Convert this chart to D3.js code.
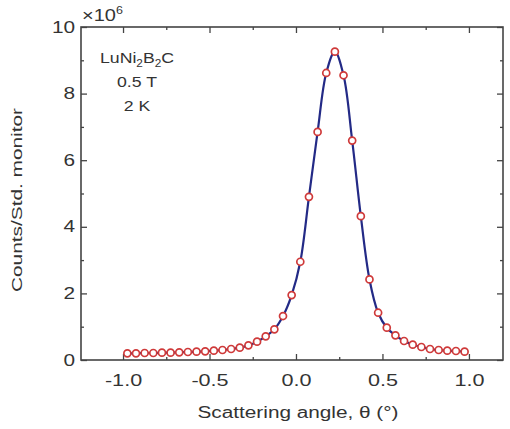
<!DOCTYPE html>
<html>
<head>
<meta charset="utf-8">
<script src="https://cdn.jsdelivr.net/npm/d3@7"></script>
<style>
  html, body { margin: 0; padding: 0; background: #fff; }
  svg text { font-family: 'Liberation Sans', Arial, sans-serif; fill: #333; }
</style>
</head>
<body>
<div id="chart"></div>
<script>
// scattering angle (deg) of each measured point
const angles = [
  -0.975, -0.925, -0.875, -0.825, -0.775, -0.725, -0.675, -0.625, -0.575, -0.525,
  -0.475, -0.425, -0.375, -0.325, -0.275, -0.225, -0.175, -0.125, -0.075, -0.025,
  0.025, 0.075, 0.125, 0.175, 0.225, 0.275, 0.325, 0.375, 0.425, 0.475,
  0.525, 0.575, 0.625, 0.675, 0.725, 0.775, 0.825, 0.875, 0.925, 0.975
];
// counts per std. monitor, in units of 10^6
const counts = [
  0.20, 0.20, 0.21, 0.21, 0.22, 0.22, 0.23, 0.24, 0.25, 0.26,
  0.28, 0.30, 0.33, 0.37, 0.44, 0.55, 0.71, 0.92, 1.32, 1.95,
  2.95, 4.90, 6.85, 8.62, 9.26, 8.55, 6.59, 4.32, 2.42, 1.42,
  0.97, 0.74, 0.57, 0.46, 0.39, 0.33, 0.30, 0.28, 0.27, 0.25
];
const xTicks = [-1.0, -0.5, 0.0, 0.5, 1.0];
const xMinorTicks = [-0.75, -0.25, 0.25, 0.75];
const yTicks = [0, 2, 4, 6, 8, 10];
const yMinorTicks = [1, 3, 5, 7, 9];
const sampleLines = ['0.5 T', '2 K'];

const W = 510, H = 429;
const frame = { left: 81, right: 503, top: 27, bottom: 360 };

const svg = d3.select('#chart')
  .append('svg')
  .attr('width', W)
  .attr('height', H);

const x = d3.scaleLinear()
  .domain([-1.243, 1.197])
  .range([frame.left, frame.right]);

const y = d3.scaleLinear()
  .domain([0, 10])
  .range([frame.bottom, frame.top]);

// widen text to match the stretched look of the original figure
function stretch(sel, k) {
  sel.each(function () {
    const len = this.getComputedTextLength();
    if (len > 0) {
      d3.select(this)
        .attr('textLength', len * k)
        .attr('lengthAdjust', 'spacingAndGlyphs');
    }
  });
}

function styleAxis(g) {
  g.select('.domain').remove();
  g.selectAll('.tick line').attr('stroke', '#444').attr('stroke-width', 1.3);
}

// major + minor ticks on all four sides, all pointing inward
const bottom = svg.append('g')
  .attr('transform', `translate(0,${frame.bottom})`)
  .call(d3.axisBottom(x).tickValues(xTicks).tickSize(-6).tickPadding(15)
    .tickFormat(d3.format('.1f')));
bottom.call(styleAxis);
bottom.selectAll('text')
  .attr('font-size', 16)
  .attr('font-family', "'Liberation Sans', Arial, sans-serif")
  .attr('fill', '#333')
  .text(d => d3.format('.1f')(d).replace('−', '-'));
stretch(bottom.selectAll('text'), 1.35);

svg.append('g')
  .attr('transform', `translate(0,${frame.bottom})`)
  .call(d3.axisBottom(x).tickValues(xMinorTicks).tickSize(-3).tickFormat(''))
  .call(styleAxis);

svg.append('g')
  .attr('transform', `translate(0,${frame.top})`)
  .call(d3.axisTop(x).tickValues(xTicks).tickSize(-6).tickFormat(''))
  .call(styleAxis);

svg.append('g')
  .attr('transform', `translate(0,${frame.top})`)
  .call(d3.axisTop(x).tickValues(xMinorTicks).tickSize(-3).tickFormat(''))
  .call(styleAxis);

const left = svg.append('g')
  .attr('transform', `translate(${frame.left},0)`)
  .call(d3.axisLeft(y).tickValues(yTicks).tickSize(-6).tickPadding(6));
left.call(styleAxis);
left.selectAll('text')
  .attr('font-size', 16)
  .attr('font-family', "'Liberation Sans', Arial, sans-serif")
  .attr('fill', '#333');
stretch(left.selectAll('text'), 1.3);

svg.append('g')
  .attr('transform', `translate(${frame.left},0)`)
  .call(d3.axisLeft(y).tickValues(yMinorTicks).tickSize(-3).tickFormat(''))
  .call(styleAxis);

svg.append('g')
  .attr('transform', `translate(${frame.right},0)`)
  .call(d3.axisRight(y).tickValues(yTicks).tickSize(-6).tickFormat(''))
  .call(styleAxis);

svg.append('g')
  .attr('transform', `translate(${frame.right},0)`)
  .call(d3.axisRight(y).tickValues(yMinorTicks).tickSize(-3).tickFormat(''))
  .call(styleAxis);

// frame
svg.append('rect')
  .attr('x', x.range()[0])
  .attr('y', y.range()[1])
  .attr('width', x.range()[1] - x.range()[0])
  .attr('height', y.range()[0] - y.range()[1])
  .attr('fill', 'none')
  .attr('stroke', '#444')
  .attr('stroke-width', 1.6);

// fit curve through the data, then the open circles on top
const points = angles.map((a, i) => ({ angle: a, value: counts[i] }));

const line = d3.line()
  .x(d => x(d.angle))
  .y(d => y(d.value))
  .curve(d3.curveCatmullRom.alpha(0.5));

svg.append('path')
  .datum(points)
  .attr('d', line)
  .attr('fill', 'none')
  .attr('stroke', '#232a86')
  .attr('stroke-width', 2.2);

svg.selectAll('.pt')
  .data(points)
  .join('circle')
  .attr('class', 'pt')
  .attr('cx', d => x(d.angle))
  .attr('cy', d => y(d.value))
  .attr('r', 3.5)
  .attr('fill', '#fff')
  .attr('stroke', '#cf3a3a')
  .attr('stroke-width', 1.7);

// exponent label
const expo = svg.append('text')
  .attr('transform', 'translate(82,21) scale(1.25,1)')
  .attr('font-size', 16);
expo.append('tspan').text('×10');
expo.append('tspan')
  .attr('font-size', 10)
  .attr('dy', -7)
  .text('6');

// sample annotation
const cx = 137;
const sample = svg.append('text')
  .attr('transform', `translate(${cx},63) scale(1.18,1)`)
  .attr('text-anchor', 'middle')
  .attr('font-size', 15);
sample.append('tspan').text('LuNi');
sample.append('tspan').attr('font-size', 10).attr('dy', 4).text('2');
sample.append('tspan').attr('dy', -4).text('B');
sample.append('tspan').attr('font-size', 10).attr('dy', 4).text('2');
sample.append('tspan').attr('dy', -4).text('C');

sampleLines.forEach((t, i) => {
  svg.append('text')
    .attr('transform', `translate(${cx},${87 + i * 24}) scale(1.18,1)`)
    .attr('text-anchor', 'middle')
    .attr('font-size', 15)
    .text(t);
});

// axis titles
const xTitle = svg.append('text')
  .attr('x', (frame.left + frame.right) / 2 + 6)
  .attr('y', 418)
  .attr('text-anchor', 'middle')
  .attr('font-size', 16)
  .text('Scattering angle, θ (°)');
xTitle.attr('textLength', 201).attr('lengthAdjust', 'spacingAndGlyphs');

svg.append('text')
  .attr('transform', `translate(22,${(108 + 292) / 2}) rotate(-90)`)
  .attr('text-anchor', 'middle')
  .attr('font-size', 15)
  .attr('textLength', 184)
  .attr('lengthAdjust', 'spacingAndGlyphs')
  .text('Counts/Std. monitor');
</script>
</body>
</html>
